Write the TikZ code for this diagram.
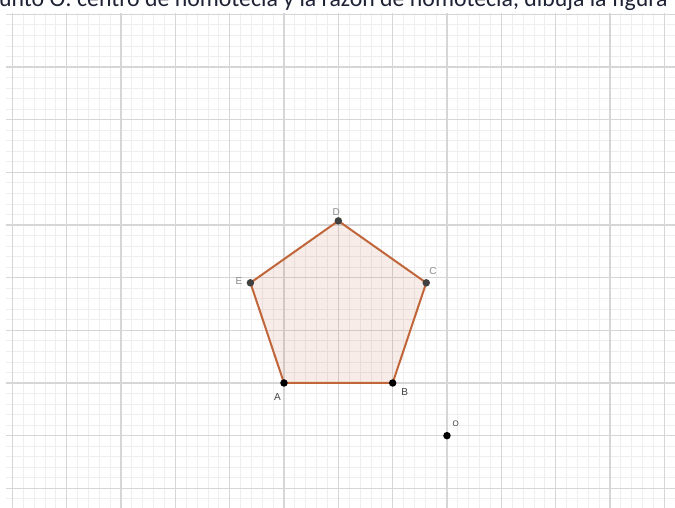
\documentclass[tikz,border=0pt]{standalone}
\usepackage{fontspec}
\setmainfont{Liberation Sans}
\newfontfamily\carlito{Carlito}
\usepackage{tikz}
\definecolor{polyEdge}{HTML}{C0663A}
\definecolor{gridMajor}{HTML}{D6D6D6}
\definecolor{gridMinor}{HTML}{EEEEEE}
\definecolor{titleInk}{HTML}{1E2235}

\begin{document}
\begin{tikzpicture}[x=54.33pt, y=52.67pt,
			gridminor/.style={draw=gridMinor, line width=0.8pt},
			gridmajor/.style={draw=gridMajor, line width=1.2pt},
			polygon/.style={draw=polyEdge, fill=polyEdge, fill opacity=0.12,
				line width=2pt, line join=round},
			freept/.style={circle, fill=black, inner sep=0pt, minimum size=7.5pt},
			deppt/.style={circle, fill=black!75, inner sep=0pt, minimum size=7.5pt},
			ptlabel/.style={font=\fontsize{10}{12}\selectfont, text=black!75, inner sep=0pt},
			deplabel/.style={ptlabel, text=black!45},
			title/.style={anchor=base west, font=\carlito\fontsize{23.8}{28}\selectfont,
				text=titleInk, inner sep=0pt}
			]
			
			\useasboundingbox (-284pt,-125pt) rectangle (391pt,383pt);
			\fill[white] (-284pt,-125pt) rectangle (391pt,383pt);
			
			\draw[gridminor, step=0.2] (-5.117,-2.373) grid (7.197,7.025);
			\draw[gridmajor, step=1] (-5.117,-2.373) grid (7.197,7.025);
			
			\node[title] (heading) at (-285pt,376pt)
			{unto O: centro de homotecia y la razón de homotecia, dibuja la figura};
			
			\coordinate (A) at (0,0);
			\coordinate (B) at (2,0);
			\coordinate (C) at (2.618,1.902);
			\coordinate (D) at (1,3.078);
			\coordinate (E) at (-0.618,1.902);
			\coordinate (O) at (3,-1);
			
			\draw[polygon] (A) -- (B) -- (C) -- (D) -- (E) -- cycle;
			
			\node[freept] (ptA) at (A) {};
			\node[freept] (ptB) at (B) {};
			\node[deppt] (ptC) at (C) {};
			\node[deppt] (ptD) at (D) {};
			\node[deppt] (ptE) at (E) {};
			\node[freept] (ptO) at (O) {};
			
			\node[ptlabel] (labA) at (-0.12,-0.26) {A};
			\node[ptlabel] (labB) at (2.22,-0.18) {B};
			\node[deplabel] (labC) at (2.74,2.13) {C};
			\node[deplabel] (labD) at (0.96,3.25) {D};
			\node[deplabel] (labE) at (-0.83,1.93) {E};
			\node[ptlabel, font=\fontsize{8}{10}\selectfont] (labO) at (3.16,-0.78) {O};
			
		\end{tikzpicture}
\end{document}
